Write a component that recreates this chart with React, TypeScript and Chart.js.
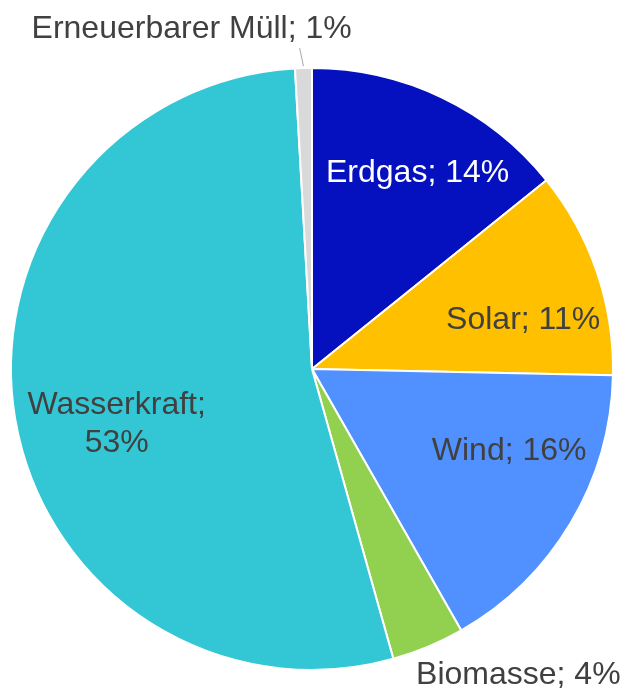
import React, { useEffect, useRef } from "react";
import { Chart, registerables } from "chart.js";

Chart.register(...registerables);

const categories = ["Erdgas", "Solar", "Wind", "Biomasse", "Wasserkraft", "Erneuerbarer Müll"];
const values = [14.2, 11.1, 16.4, 3.9, 53.4, 0.9];
const colors = ["#0510BE", "#FFC000", "#5191FF", "#92D050", "#33C6D4", "#D9D9D9"];
const labelColors = ["#FFFFFF", "#404040", "#404040", "#404040", "#404040", "#404040"];
// label placement: [radius factor, angle from top (deg, clockwise)]
const labelPolar: [number, number][] = [
  [0.74, 28.3],
  [0.72, 77],
  [0.71, 112.7],
  [1.226, 146],
  [0.674, 254.3],
  [1.198, 340.5],
];
const multiLine = [false, false, false, false, true, false];

const labelPlugin = {
  id: "sliceLabels",
  afterDraw(chart: any) {
    const ctx = chart.ctx;
    const meta = chart.getDatasetMeta(0);
    const data = chart.data.datasets[0].data as number[];
    const total = data.reduce((a, b) => a + b, 0);
    ctx.save();
    ctx.font = "32px 'Liberation Sans', Arial, sans-serif";
    ctx.textAlign = "center";
    ctx.textBaseline = "middle";
    meta.data.forEach((arc: any, i: number) => {
      const { x, y, outerRadius } = arc.getProps(["x", "y", "outerRadius"], true);
      const [rf, deg] = labelPolar[i];
      const th = (deg * Math.PI) / 180;
      const lx = x + rf * outerRadius * Math.sin(th);
      const ly = y - rf * outerRadius * Math.cos(th);
      const pct = Math.round((data[i] / total) * 100) + "%";
      ctx.fillStyle = labelColors[i];
      if (multiLine[i]) {
        ctx.fillText(categories[i] + ";", lx, ly - 19);
        ctx.fillText(pct, lx, ly + 19);
      } else {
        ctx.fillText(categories[i] + "; " + pct, lx, ly);
      }
      if (rf > 1 && i === 5) {
        const a0 = arc.startAngle, a1 = arc.endAngle;
        const mid = (a0 + a1) / 2;
        const ex = x + outerRadius * Math.cos(mid);
        const ey = y + outerRadius * Math.sin(mid);
        ctx.strokeStyle = "#A6A6A6";
        ctx.lineWidth = 1;
        ctx.beginPath();
        ctx.moveTo(ex, ey - 2);
        ctx.lineTo(lx + 108, ly + 19);
        ctx.stroke();
      }
    });
    ctx.restore();
  },
};

export default function App() {
  const ref = useRef<HTMLCanvasElement>(null);
  useEffect(() => {
    if (!ref.current) return;
    const chart = new Chart(ref.current, {
      type: "pie",
      data: {
        labels: categories,
        datasets: [
          {
            data: values,
            backgroundColor: colors,
            borderColor: "#FFFFFF",
            borderWidth: 2,
          },
        ],
      },
      options: {
        responsive: false,
        animation: false,
        layout: { padding: { left: 10, right: 14, top: 67, bottom: 17 } },
        plugins: {
          legend: { display: false },
          tooltip: { enabled: false },
        },
      },
      plugins: [labelPlugin],
    });
    return () => chart.destroy();
  }, []);
  return (
    <div style={{ position: "fixed", left: 0, top: 0, width: 628, height: 688, background: "#fff" }}>
      <canvas ref={ref} width={628} height={688} style={{ display: "block" }} />
    </div>
  );
}
